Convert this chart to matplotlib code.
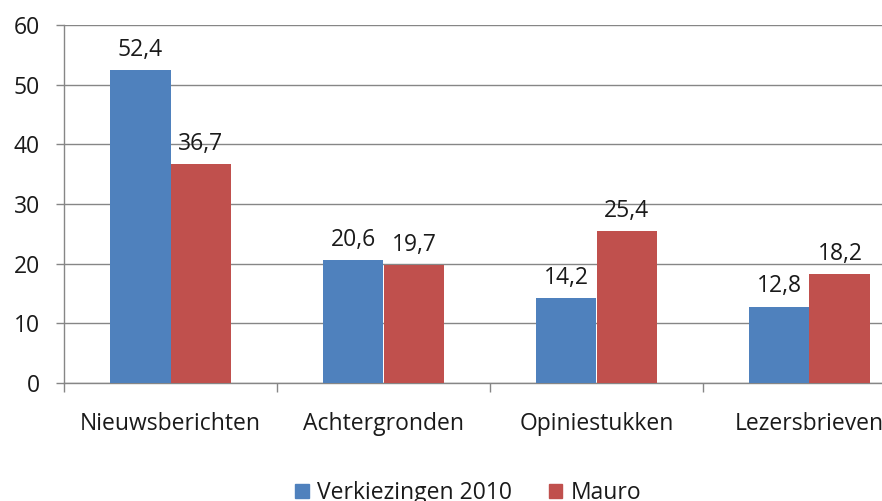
import matplotlib
matplotlib.use("Agg")
import matplotlib.pyplot as plt
import numpy as np
from matplotlib.patches import Rectangle

categories = ["Nieuwsberichten", "Achtergronden", "Opiniestukken", "Lezersbrieven"]
series_names = ["Verkiezingen 2010", "Mauro"]
verkiezingen = [52.4, 20.6, 14.2, 12.8]
mauro = [36.7, 19.7, 25.4, 18.2]
yticks = [0, 10, 20, 30, 40, 50, 60]

plt.rcParams['font.family'] = ['Open Sans', 'DejaVu Sans']

fig = plt.figure(figsize=(8.82, 5.01), dpi=100)
W, H = 882, 501
left, right, top, bottom = 64, 916, 25, 383
ax = fig.add_axes([left / W, 1 - bottom / H, (right - left) / W, (bottom - top) / H])

x = np.arange(len(categories))
w = 1 / 3.5
blue = "#4F81BD"
red = "#C0504D"
txt = "#1a1a1a"
fs = 16.5
b1 = ax.bar(x - w / 2, verkiezingen, width=w, color=blue, label=series_names[0], zorder=3)
b2 = ax.bar(x + w / 2, mauro, width=w, color=red, label=series_names[1], zorder=3)

for bars, vals in ((b1, verkiezingen), (b2, mauro)):
    for rect, v in zip(bars, vals):
        ax.annotate(f"{v:.1f}".replace(".", ","),
                    (rect.get_x() + rect.get_width() / 2, v),
                    xytext=(0, 6), textcoords="offset points",
                    ha="center", va="bottom", fontsize=fs, color=txt)

ax.set_xlim(-0.5, len(categories) - 0.5)
ax.set_ylim(0, 60)
ax.set_yticks(yticks)
ax.set_yticklabels([str(t) for t in yticks], fontsize=fs, color=txt)
ax.yaxis.grid(True, color="#868686", linewidth=1, zorder=0)
ax.tick_params(axis="y", length=5.8, color="#868686", width=1, pad=11.5)

ax.set_xticks(np.arange(len(categories) + 1) - 0.5, minor=False)
ax.set_xticklabels([])
ax.tick_params(axis="x", which="major", length=6.5, color="#868686", width=1)
ax.set_xticks(x, minor=True)
ax.set_xticklabels(categories, minor=True, fontsize=fs, color=txt)
ax.tick_params(axis="x", which="minor", length=0, pad=21)

for s in ("top", "right"):
    ax.spines[s].set_visible(False)
for s in ("left", "bottom"):
    ax.spines[s].set_color("#868686")
    ax.spines[s].set_linewidth(1)

# legend
handles = [Rectangle((0, 0), 1, 1, color=blue), Rectangle((0, 0), 1, 1, color=red)]
fig.legend(handles, series_names, loc="center", bbox_to_anchor=(468 / W, 1 - 493 / H),
           ncol=2, frameon=False, fontsize=fs, handlelength=0.6, handleheight=0.6,
           handletextpad=0.35, columnspacing=1.6, labelcolor=txt)

fig.savefig("out.png", dpi=100)
